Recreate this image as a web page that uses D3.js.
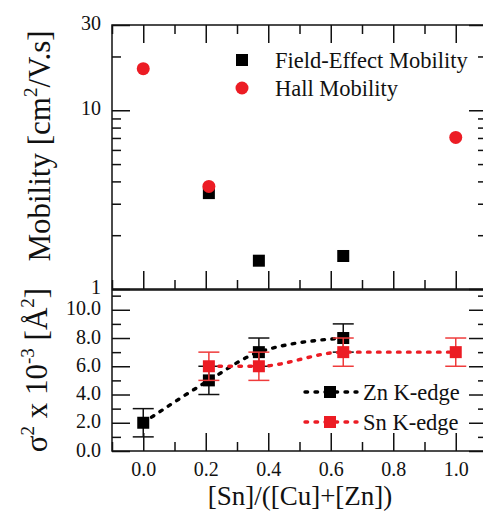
<!DOCTYPE html>
<html>
<head>
<meta charset="utf-8">
<script src="https://cdn.jsdelivr.net/npm/d3@7"></script>
<style>
	body { margin: 0; background: #fff; }
</style>
</head>
<body>
<div id="my_data"></div>
<script>
// top panel: mobility (log scale)
var feX = [0.21, 0.37, 0.64];
var feMobility = [3.44, 1.44, 1.53];
var hallX = [0.0, 0.21, 1.0];
var hallMobility = [17.1, 3.75, 7.05];

// bottom panel: sigma^2 x 10^-3
var znX = [0.0, 0.21, 0.37, 0.64];
var znSigma = [2, 5, 7, 8];
var znErr = [1, 1, 1, 1];
var snX = [0.21, 0.37, 0.64, 1.0];
var snSigma = [6, 6, 7, 7];
var snErr = [1, 1, 1, 1];

var xTicks = [0, 0.2, 0.4, 0.6, 0.8, 1.0];
var xMinor = [-0.1, 0.1, 0.3, 0.5, 0.7, 0.9, 1.1];
var topTicks = [1, 10, 30];
var topMinor = [2, 3, 4, 5, 6, 7, 8, 9, 20];
var botTicks = [0, 2, 4, 6, 8, 10];
var botMinor = [1, 3, 5, 7, 9, 11];

var width = 483, height = 512;
var red = "#ec1c24";
var redErr = "#ef3b3b";
var serif = "'Liberation Serif', 'Times New Roman', Times, serif";

var svg = d3.select("#my_data").append("svg")
	.attr("width", width)
	.attr("height", height)
	.style("font-family", serif);

var x = d3.scaleLinear().domain([-0.1, 1.1]).range([112, 487]);
var yTop = d3.scaleLog().domain([1, 30]).range([289, 25]);
var yBot = d3.scaleLinear().domain([0, 11.4]).range([451, 290]);

var majorLen = 18, minorLen = 9;

function ticksGroup(axisFn, scale, values, len, fmt, pad, transform) {
	var g = svg.append("g")
		.attr("transform", transform)
		.call(axisFn(scale).tickValues(values).tickSize(-len).tickPadding(pad)
			.tickFormat(fmt || ""));
	g.attr("font-family", null).attr("font-size", null);
	g.select(".domain").remove();
	g.selectAll(".tick line").attr("stroke", "#111").attr("stroke-width", 1.5);
	g.selectAll(".tick text")
		.style("font-family", serif)
		.style("font-size", "20px")
		.attr("fill", "#111");
	return g;
}

function label(sel, size) {
	return sel.style("font-family", serif).style("font-size", size + "px").attr("fill", "#111");
}

// ---- top panel axes
ticksGroup(d3.axisTop, x, xTicks, majorLen, null, 0, "translate(0,25)");
ticksGroup(d3.axisTop, x, xMinor, minorLen, null, 0, "translate(0,25)");
ticksGroup(d3.axisBottom, x, xTicks, majorLen, null, 0, "translate(0,289)");
ticksGroup(d3.axisBottom, x, xMinor, minorLen, null, 0, "translate(0,289)");
var tl = ticksGroup(d3.axisLeft, yTop, topTicks, majorLen, d3.format("d"), 11, "translate(112,0)");
tl.selectAll(".tick text").attr("dy", "0.2em");
ticksGroup(d3.axisLeft, yTop, topMinor, minorLen, null, 0, "translate(112,0)");
ticksGroup(d3.axisRight, yTop, topTicks, majorLen, null, 0, "translate(487,0)");
ticksGroup(d3.axisRight, yTop, topMinor, minorLen, null, 0, "translate(487,0)");

// ---- bottom panel axes
ticksGroup(d3.axisBottom, x, xTicks, majorLen, d3.format(".1f"), 11, "translate(0,451)");
ticksGroup(d3.axisBottom, x, xMinor, minorLen, null, 0, "translate(0,451)");
var bl = ticksGroup(d3.axisLeft, yBot, botTicks, majorLen, d3.format(".1f"), 11, "translate(112,0)");
bl.selectAll(".tick text").attr("dy", "0.25em");
ticksGroup(d3.axisLeft, yBot, botMinor, minorLen, null, 0, "translate(112,0)");
ticksGroup(d3.axisRight, yBot, botTicks, majorLen, null, 0, "translate(487,0)");
ticksGroup(d3.axisRight, yBot, botMinor, minorLen, null, 0, "translate(487,0)");

// frames
svg.append("rect").attr("x", 112).attr("y", 25).attr("width", 375).attr("height", 264)
	.attr("fill", "none").attr("stroke", "#111").attr("stroke-width", 1.5);
svg.append("rect").attr("x", 112).attr("y", 290).attr("width", 375).attr("height", 161)
	.attr("fill", "none").attr("stroke", "#111").attr("stroke-width", 1.5);

// ---- top panel marks
var sq = 12;
svg.append("g").selectAll("rect")
	.data(feX)
	.enter().append("rect")
	.attr("x", (d, i) => x(d) - sq / 2)
	.attr("y", (d, i) => yTop(feMobility[i]) - sq / 2)
	.attr("width", sq).attr("height", sq)
	.attr("fill", "#000");

svg.append("g").selectAll("circle")
	.data(hallX)
	.enter().append("circle")
	.attr("cx", d => x(d))
	.attr("cy", (d, i) => yTop(hallMobility[i]))
	.attr("r", 6.5)
	.attr("fill", red);

// top legend
svg.append("rect").attr("x", 242 - sq / 2).attr("y", 60 - sq / 2)
	.attr("width", sq).attr("height", sq).attr("fill", "#000");
label(svg.append("text").attr("x", 275).attr("y", 68), 22.5).text("Field-Effect Mobility");
svg.append("circle").attr("cx", 242).attr("cy", 88).attr("r", 6.5).attr("fill", red);
label(svg.append("text").attr("x", 275).attr("y", 96), 22.5).text("Hall Mobility");

// ---- bottom panel marks
var dash = "2.6,7.4";
function series(xs, ys, errs, color, errColor) {
	var pts = xs.map((d, i) => [d, ys[i], errs[i]]);
	var line = d3.line()
		.x(d => x(d[0]))
		.y(d => yBot(d[1]))
		.curve(d3.curveMonotoneX);
	svg.append("path")
		.attr("d", line(pts))
		.attr("fill", "none")
		.attr("stroke", color)
		.attr("stroke-width", 3.4)
		.attr("stroke-linecap", "round")
		.attr("stroke-dasharray", dash);

	var eb = svg.append("g").attr("stroke", errColor).attr("stroke-width", 1.5);
	eb.selectAll("line.v").data(pts).enter().append("line")
		.attr("x1", d => x(d[0])).attr("x2", d => x(d[0]))
		.attr("y1", d => yBot(d[1] - d[2])).attr("y2", d => yBot(d[1] + d[2]));
	eb.selectAll("line.lo").data(pts).enter().append("line")
		.attr("x1", d => x(d[0]) - 10.5).attr("x2", d => x(d[0]) + 10.5)
		.attr("y1", d => yBot(d[1] - d[2])).attr("y2", d => yBot(d[1] - d[2]));
	eb.selectAll("line.hi").data(pts).enter().append("line")
		.attr("x1", d => x(d[0]) - 10.5).attr("x2", d => x(d[0]) + 10.5)
		.attr("y1", d => yBot(d[1] + d[2])).attr("y2", d => yBot(d[1] + d[2]));

	svg.append("g").selectAll("rect").data(pts).enter().append("rect")
		.attr("x", d => x(d[0]) - sq / 2)
		.attr("y", d => yBot(d[1]) - sq / 2)
		.attr("width", sq).attr("height", sq)
		.attr("fill", color);
}
series(znX, znSigma, znErr, "#000", "#111");
series(snX, snSigma, snErr, red, redErr);

// bottom legend
function legendRow(y, color, text) {
	svg.append("line").attr("x1", 305).attr("x2", 357).attr("y1", y).attr("y2", y)
		.attr("stroke", color).attr("stroke-width", 3.4)
		.attr("stroke-linecap", "round").attr("stroke-dasharray", dash);
	svg.append("rect").attr("x", 330 - sq / 2).attr("y", y - sq / 2)
		.attr("width", sq).attr("height", sq).attr("fill", color);
	label(svg.append("text").attr("x", 363).attr("y", y + 8), 22.5).text(text);
}
legendRow(392, "#000", "Zn K-edge");
legendRow(422, red, "Sn K-edge");

// axis titles
var t1 = label(svg.append("text")
	.attr("transform", "translate(50,146) rotate(-90)")
	.attr("text-anchor", "middle"), 31);
t1.append("tspan").text("Mobility [cm");
t1.append("tspan").style("font-size", "19px").attr("dy", -13).text("2");
t1.append("tspan").attr("dy", 13).text("/V.s]");

var t2 = label(svg.append("text")
	.attr("transform", "translate(47,370) rotate(-90)")
	.attr("text-anchor", "middle"), 31);
t2.append("tspan").text("\u03C3");
t2.append("tspan").style("font-size", "19px").attr("dy", -13).text("2");
t2.append("tspan").attr("dy", 13).text(" x 10");
t2.append("tspan").style("font-size", "19px").attr("dy", -13).text("-3");
t2.append("tspan").attr("dy", 13).text(" [\u00C5");
t2.append("tspan").style("font-size", "19px").attr("dy", -13).text("2");
t2.append("tspan").attr("dy", 13).text("]");

label(svg.append("text")
	.attr("x", 300).attr("y", 505)
	.attr("text-anchor", "middle"), 27)
	.text("[Sn]/([Cu]+[Zn])");
</script>
</body>
</html>
